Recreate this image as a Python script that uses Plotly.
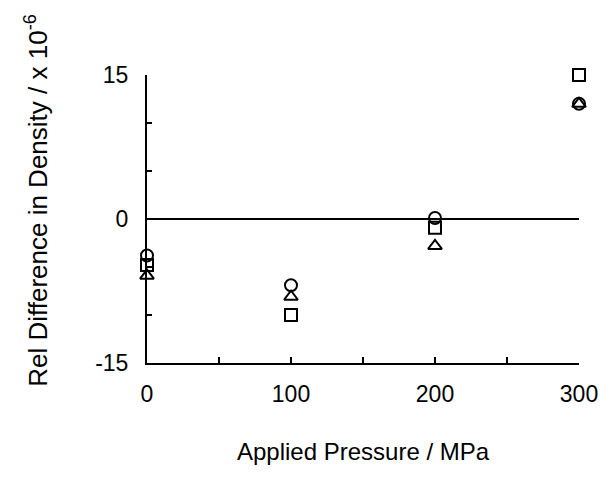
import plotly.graph_objects as go

pressure = [0, 100, 200, 300]
circle_vals = [-3.8, -6.9, 0.1, 12.0]
triangle_vals = [-5.9, -8.1, -2.8, 12.0]
square_vals = [-4.8, -10.0, -0.9, 15.0]

x_tickvals = [0, 100, 200, 300]
x_ticktext = ["0", "100", "200", "300"]
x_minor_ticks = [50, 150, 250]
y_tickvals = [-15, 0, 15]
y_ticktext = ["-15", "0", "15"]
y_minor_ticks = [-10, -5, 5, 10]

x_title = "Applied Pressure / MPa"
y_title = "Rel Difference in Density / x 10<sup>-6</sup>"

FAM = "Liberation Sans, Arial, sans-serif"

fig = go.Figure()
for vals, sym in [(circle_vals, "circle-open"), (triangle_vals, "triangle-up-open"), (square_vals, "square-open")]:
    fig.add_trace(go.Scatter(
        x=pressure, y=vals, mode="markers",
        marker=dict(symbol=sym, size=12, color="black", line=dict(width=2, color="black")),
        cliponaxis=False, showlegend=False))

fig.update_layout(
    width=602, height=472,
    margin=dict(l=139, r=26, t=67, b=117),
    paper_bgcolor="white", plot_bgcolor="white",
    font=dict(family=FAM, size=20, color="black"),
    xaxis=dict(range=[0, 300], tickvals=x_tickvals, ticktext=x_ticktext,
               ticks="inside", ticklen=6, tickwidth=1.5, tickcolor="black",
               minor=dict(tickvals=x_minor_ticks, ticks="inside", ticklen=6,
                          tickwidth=1.5, tickcolor="black", showgrid=False),
               ticklabelstandoff=9, tickfont=dict(family=FAM, size=23, color="black"),
               showline=True, linecolor="black", linewidth=2, showgrid=False, zeroline=False),
    yaxis=dict(range=[-15, 15], tickvals=y_tickvals, ticktext=y_ticktext,
               ticks="inside", ticklen=5, tickwidth=1.5, tickcolor="black",
               minor=dict(tickvals=y_minor_ticks, ticks="inside", ticklen=5,
                          tickwidth=1.5, tickcolor="black", showgrid=False),
               ticklabelstandoff=12, tickfont=dict(family=FAM, size=23, color="black"),
               showline=True, linecolor="black", linewidth=2, showgrid=False,
               zeroline=True, zerolinecolor="black", zerolinewidth=2),
    annotations=[
        dict(text=x_title, xref="paper", yref="paper", x=0.5, y=-0.309,
             xanchor="center", yanchor="middle", showarrow=False,
             font=dict(family=FAM, size=24, color="black")),
        dict(text=y_title, xref="paper", yref="paper", x=-0.255, y=0.566,
             xanchor="center", yanchor="middle", showarrow=False, textangle=-90,
             font=dict(family=FAM, size=26, color="black")),
    ],
)
fig.write_html("out.html")
